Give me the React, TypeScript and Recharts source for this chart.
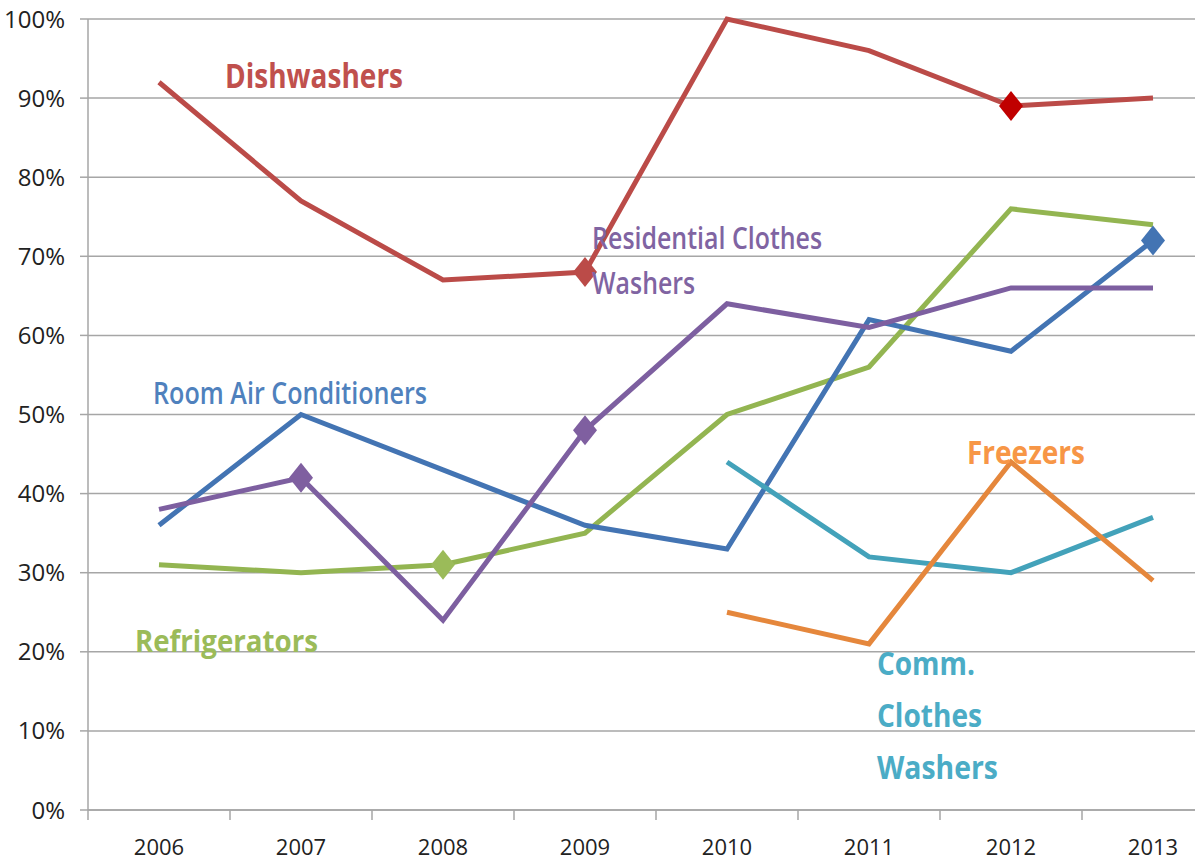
import React from "react";
import { LineChart, Line, XAxis, YAxis, CartesianGrid, ReferenceDot } from "recharts";

const categories = ["2006", "2007", "2008", "2009", "2010", "2011", "2012", "2013"];
const dishwashers = [92, 77, 67, 68, 100, 96, 89, 90];
const residentialClothesWashers = [38, 42, 24, 48, 64, 61, 66, 66];
const roomAirConditioners = [36, 50, 43, 36, 33, 62, 58, 72];
const refrigerators = [31, 30, 31, 35, 50, 56, 76, 74];
const commClothesWashers = [null, null, null, null, 44, 32, 30, 37];
const freezers = [null, null, null, null, 25, 21, 44, 29];
const yTicks = [0, 10, 20, 30, 40, 50, 60, 70, 80, 90, 100];

const dishMarkers = [
  { year: "2009", color: "#BB4B48" },
  { year: "2012", color: "#C00000" },
];
const resMarkers = [
  { year: "2007", color: "#7F5FA0" },
  { year: "2009", color: "#7F5FA0" },
];
const racMarkers = [{ year: "2013", color: "#4374B3" }];
const refMarkers = [{ year: "2008", color: "#9BBB59" }];

const annotations = [
  { lines: ["Dishwashers"], widths: [178], x: 0.965, y: 91.3, color: "#C0504D", size: 34, weight: 700, lh: 0 },
  { lines: ["Residential Clothes", "Washers"], widths: [230, 103], x: 3.55, y: 70.9, color: "#8064A2", size: 30, weight: 600, lh: 45 },
  { lines: ["Room Air Conditioners"], widths: [274], x: 0.458, y: 51.3, color: "#4F81BD", size: 30, weight: 600, lh: 0 },
  { lines: ["Refrigerators"], widths: [183], x: 0.331, y: 20.0, color: "#9BBB59", size: 31, weight: 700, lh: 0 },
  { lines: ["Freezers"], widths: [118], x: 6.19, y: 43.7, color: "#F79646", size: 33, weight: 700, lh: 0 },
  { lines: ["Comm.", "Clothes", "Washers"], widths: [98, 105, 121], x: 5.556, y: 17.1, color: "#4BACC6", size: 33, weight: 700, lh: 52 },
];

const data = categories.map((c, i) => ({
  pos: i + 0.5,
  year: c,
  dish: dishwashers[i],
  res: residentialClothesWashers[i],
  rac: roomAirConditioners[i],
  ref: refrigerators[i],
  comm: commClothesWashers[i],
  frz: freezers[i],
}));

const xTicks: number[] = [];
for (let i = 0; i <= categories.length; i++) {
  xTicks.push(i);
  if (i < categories.length) xTicks.push(i + 0.5);
}

const FONT = "'Open Sans', 'Noto Sans', sans-serif";
const GRID = "#A6A6A6";

const XTick = (props: any) => {
  const { x, y, payload } = props;
  const v = payload.value;
  if (Number.isInteger(v)) {
    return <line x1={x} x2={x} y1={y} y2={y + 10} stroke={GRID} strokeWidth={1.5} />;
  }
  return (
    <text x={x} y={y + 45} textAnchor="middle" fontSize={22} fill="#222" fontFamily={FONT}>
      {categories[Math.floor(v)]}
    </text>
  );
};

const makeDot = (markers: { year: string; color: string }[]) => (props: any) => {
  const { cx, cy, payload, index } = props;
  const m = markers.find((mk) => mk.year === payload.year);
  if (!m || cx == null || cy == null) return <g key={`d${index}`} />;
  const w = 12;
  const h = 15;
  return (
    <polygon
      key={`d${index}`}
      points={`${cx},${cy - h} ${cx + w},${cy} ${cx},${cy + h} ${cx - w},${cy}`}
      fill={m.color}
      stroke="none"
    />
  );
};

const makeLabel = (a: (typeof annotations)[number]) => (props: any) => {
  const { cx, cy } = props;
  return (
    <g>
      {a.lines.map((t, i) => (
        <text
          key={i}
          x={cx}
          y={cy + i * a.lh}
          fill={a.color}
          fontSize={a.size}
          fontWeight={a.weight}
          fontFamily={FONT}
          textLength={a.widths[i]}
          lengthAdjust="spacingAndGlyphs"
        >
          {t}
        </text>
      ))}
    </g>
  );
};

const series = [
  { key: "dish", color: "#BB4B48", markers: dishMarkers },
  { key: "ref", color: "#93B551", markers: refMarkers },
  { key: "rac", color: "#4374B3", markers: racMarkers },
  { key: "comm", color: "#43A2BA", markers: [] as { year: string; color: string }[] },
  { key: "frz", color: "#E5873C", markers: [] as { year: string; color: string }[] },
  { key: "res", color: "#7D5FA0", markers: resMarkers },
];

export default function App() {
  return (
    <div style={{ position: "fixed", left: 0, top: 0, width: 1195, height: 863, overflow: "hidden", background: "#fff" }}>
      <LineChart width={1230} height={863} data={data} margin={{ top: 19, right: 6, bottom: 0, left: 0 }}>
        <CartesianGrid horizontal={true} vertical={false} stroke={GRID} strokeWidth={1.5} />
        <XAxis
          dataKey="pos"
          type="number"
          domain={[0, categories.length]}
          ticks={xTicks}
          interval={0}
          height={53}
          tickLine={false}
          tickSize={0}
          tickMargin={0}
          axisLine={{ stroke: GRID, strokeWidth: 1.5 }}
          tick={<XTick />}
          allowDecimals={true}
        />
        <YAxis
          width={88}
          domain={[0, 100]}
          ticks={yTicks}
          interval={0}
          tickFormatter={(v: number) => `${v}%`}
          tickSize={8}
          tickMargin={15}
          axisLine={{ stroke: GRID, strokeWidth: 1.5 }}
          tickLine={{ stroke: GRID, strokeWidth: 1.5 }}
          tick={{ fontSize: 24, fill: "#222", fontFamily: FONT }}
        />
        {series.map((s) => (
          <Line
            key={s.key}
            type="linear"
            dataKey={s.key}
            stroke={s.color}
            strokeWidth={5}
            dot={makeDot(s.markers)}
            activeDot={false}
            connectNulls={false}
            isAnimationActive={false}
          />
        ))}
        {annotations.map((a, i) => (
          <ReferenceDot key={i} x={a.x} y={a.y} r={0} ifOverflow="visible" shape={makeLabel(a)} />
        ))}
      </LineChart>
    </div>
  );
}
